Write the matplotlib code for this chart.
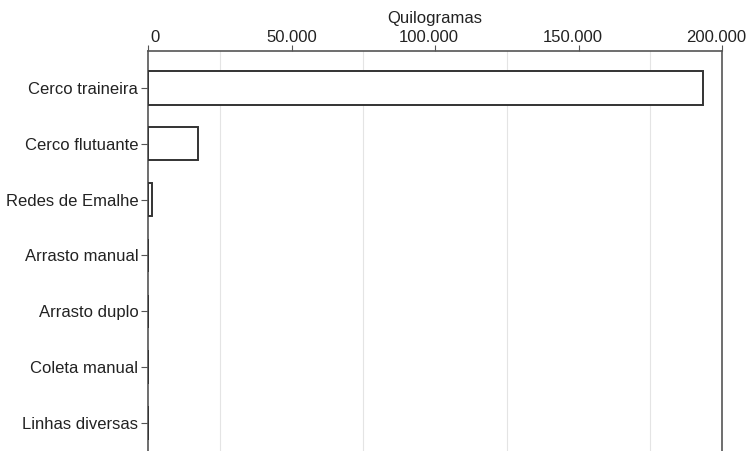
import matplotlib.pyplot as plt
import matplotlib.transforms as mtransforms
from matplotlib.ticker import MultipleLocator

categorias = ["Cerco traineira", "Cerco flutuante", "Redes de Emalhe",
              "Arrasto manual", "Arrasto duplo", "Coleta manual", "Linhas diversas"]
quilogramas = [193500, 17500, 1300, 0, 0, 0, 0]
ticks_x = [0, 50000, 100000, 150000, 200000]
# small horizontal nudges (px) of the top tick labels, as in the source image
desvio_px = [7, 0, -6, -6, -6]

plt.rcParams['font.family'] = ['Liberation Sans', 'DejaVu Sans']

fig = plt.figure(figsize=(7.48, 4.51), dpi=100)
ax = fig.add_axes([148 / 748, 0.0, (722 - 148) / 748, (451 - 51) / 451])

y = list(range(len(categorias)))
ax.barh(y, quilogramas, height=0.6, color='white', edgecolor='#333333',
        linewidth=1.4, zorder=3)

ax.set_xlim(0, 200000)
ax.set_ylim(6.5, -0.66)
ax.set_yticks(y)
ax.set_yticklabels(categorias, fontsize=12, color='#222222')

ax.xaxis.tick_top()
ax.xaxis.set_label_position('top')
ax.set_xticks(ticks_x)
ax.set_xticklabels([f"{v:,}".replace(",", ".") for v in ticks_x],
                   fontsize=12, color='#222222')
ax.set_xlabel("Quilogramas", fontsize=12, labelpad=5, color='#222222')
ax.xaxis.set_minor_locator(MultipleLocator(25000))
ax.grid(True, which='minor', axis='x', color='#e4e4e4', linewidth=0.8, zorder=0)

ax.tick_params(axis='x', which='major', direction='out', length=4, pad=0, color='#555555')
ax.tick_params(axis='x', which='minor', length=0)
ax.tick_params(axis='y', direction='out', length=5, pad=2, color='#555555')

for lab, dx in zip(ax.get_xticklabels(), desvio_px):
    lab.set_transform(lab.get_transform() +
                      mtransforms.ScaledTranslation(dx / 100, 0, fig.dpi_scale_trans))

for side in ['top', 'left', 'right']:
    ax.spines[side].set_color('#555555')
    ax.spines[side].set_linewidth(1.2)
ax.spines['bottom'].set_visible(False)

fig.savefig("out.png", dpi=100)
